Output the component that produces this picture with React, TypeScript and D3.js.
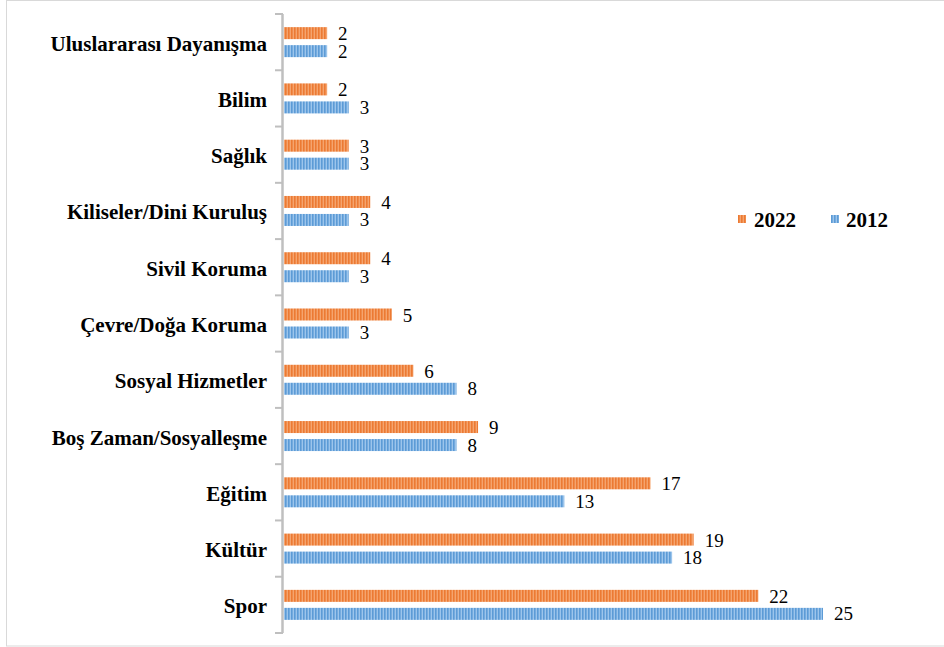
import React from "react";
import * as d3 from "d3";

const categories = [
  "Uluslararası Dayanışma",
  "Bilim",
  "Sağlık",
  "Kiliseler/Dini Kuruluş",
  "Sivil Koruma",
  "Çevre/Doğa Koruma",
  "Sosyal Hizmetler",
  "Boş Zaman/Sosyalleşme",
  "Eğitim",
  "Kültür",
  "Spor",
];
const values2022 = [2, 2, 3, 4, 4, 5, 6, 9, 17, 19, 22];
const values2012 = [2, 3, 3, 3, 3, 3, 8, 8, 13, 18, 25];
const seriesNames = ["2022", "2012"];

const W = 944;
const H = 647;

export default function App() {
  const x0 = 284;
  const x = d3.scaleLinear().domain([0, 25]).range([x0, 823]);
  const y = d3.scaleBand<string>().domain(categories).range([14, 633]);
  const bw = y.bandwidth();
  const barH = 12;
  const gap = 6;
  const off1 = bw / 2 - gap / 2 - barH;
  const off2 = bw / 2 + gap / 2;
  const font = "Liberation Serif";
  const boundaries = categories.map((c) => y(c)!).concat([y.range()[1]]);

  return (
    <svg width={W} height={H} style={{ position: "absolute", left: 0, top: 0 }}>
      <defs>
        <pattern id="pOrange" patternUnits="userSpaceOnUse" width="3" height="10">
          <rect width="3" height="10" fill="#f5a46e" />
          <rect width="1.6" height="10" fill="#ec7a33" />
        </pattern>
        <pattern id="pBlue" patternUnits="userSpaceOnUse" width="3" height="10">
          <rect width="3" height="10" fill="#9cc5ec" />
          <rect width="1.6" height="10" fill="#5c9bd6" />
        </pattern>
      </defs>
      <rect x={0} y={0} width={W} height={H} fill="#fff" />
      <rect x={6.5} y={0.5} width={W + 10} height={H - 1.5} fill="none" stroke="#d9d9d9" strokeWidth={1} />
      {categories.map((c, i) => (
        <g key={c}>
          <rect x={x0} y={y(c)! + off1} width={x(values2022[i]) - x0} height={barH} fill="url(#pOrange)" />
          <rect x={x0} y={y(c)! + off2} width={x(values2012[i]) - x0} height={barH} fill="url(#pBlue)" />
          <text x={x(values2022[i]) + 11} y={y(c)! + off1 + barH / 2 + 7} style={{ fontFamily: font }} fontSize={19} fill="#000">
            {values2022[i]}
          </text>
          <text x={x(values2012[i]) + 11} y={y(c)! + off2 + barH / 2 + 6.5} style={{ fontFamily: font }} fontSize={19} fill="#000">
            {values2012[i]}
          </text>
          <text
            x={267}
            y={y(c)! + bw / 2 + 8.5}
            textAnchor="end"
            style={{ fontFamily: font }}
            fontSize={21}
            fontWeight="bold"
            fill="#000"
          >
            {c}
          </text>
        </g>
      ))}
      <line x1={282.5} x2={282.5} y1={14} y2={633} stroke="#bfbfbf" strokeWidth={2.5} />
      {boundaries.map((b, i) => (
        <line key={i} x1={275} x2={283} y1={b} y2={b} stroke="#bfbfbf" strokeWidth={2} />
      ))}
      <g style={{ fontFamily: font }} fontSize={21} fontWeight="bold">
        <rect x={738} y={215} width={8} height={8} fill="url(#pOrange)" />
        <text x={754} y={227} style={{ fontFamily: font }}>{seriesNames[0]}</text>
        <rect x={831} y={215} width={8} height={8} fill="url(#pBlue)" />
        <text x={846} y={227} style={{ fontFamily: font }}>{seriesNames[1]}</text>
      </g>
    </svg>
  );
}
